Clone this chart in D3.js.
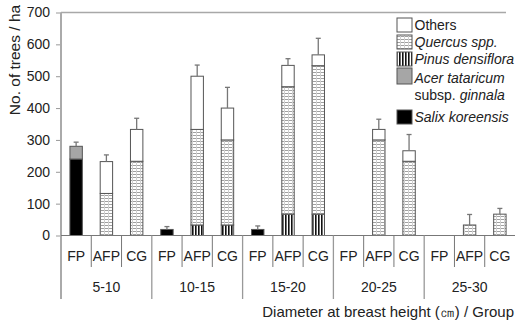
<!DOCTYPE html>
<html><head><meta charset="utf-8">
<script src="https://cdn.jsdelivr.net/npm/d3@7"></script>
<style>body{margin:0;background:#fff}svg{display:block}text{font-family:"Liberation Sans",Arial,sans-serif}</style>
</head><body><svg id="c" width="515" height="321"></svg>
<script>
const dbhClasses = ["5-10","10-15","15-20","20-25","25-30"];
const groups = ["FP","AFP","CG"];
const species = ["Salix koreensis","Acer tataricum subsp. ginnala","Pinus densiflora","Quercus spp.","Others"];
// values (trees/ha) per group, index by dbh class
const salix   = {FP:[240,19,19,0,0], AFP:[0,0,0,0,0], CG:[0,0,0,0,0]};
const acer    = {FP:[40,0,0,0,0],    AFP:[0,0,0,0,0], CG:[0,0,0,0,0]};
const pinus   = {FP:[0,0,0,0,0],     AFP:[0,33,67,0,0], CG:[0,33,67,0,0]};
const quercus = {FP:[0,0,0,0,0],     AFP:[132,300,400,300,33], CG:[233,267,466,233,67]};
const others  = {FP:[0,0,0,0,0],     AFP:[100,167,67,33,0], CG:[100,100,34,33,0]};
const sd      = {FP:[13,9,11,0,0],   AFP:[21,35,21,32,33], CG:[35,65,52,51,18]};
const yTicks = [0,100,200,300,400,500,600,700];

(function(){
const svg = d3.select("#c");
const defs = svg.append("defs");
const pq = defs.append("pattern").attr("id","quercus").attr("patternUnits","userSpaceOnUse").attr("width",4).attr("height",3);
pq.append("rect").attr("width",4).attr("height",3).attr("fill","#fff");
pq.append("rect").attr("width",4).attr("height",1).attr("fill","#a0a0a0");
pq.append("rect").attr("x",0).attr("width",1).attr("height",3).attr("fill","#d0d0d0");
const pp = defs.append("pattern").attr("id","pinus").attr("patternUnits","userSpaceOnUse").attr("width",3).attr("height",3);
pp.append("rect").attr("width",3).attr("height",3).attr("fill","#fff");
pp.append("rect").attr("width",1.6).attr("height",3).attr("fill","#111");

const fills = {"Salix koreensis":"#000","Acer tataricum subsp. ginnala":"#a6a6a6","Pinus densiflora":"url(#pinus)","Quercus spp.":"url(#quercus)","Others":"#fff"};
const seriesData = {"Salix koreensis":salix,"Acer tataricum subsp. ginnala":acer,"Pinus densiflora":pinus,"Quercus spp.":quercus,"Others":others};

const pl=61, pr=515, pt=12.5, base=235.5;
const y = d3.scaleLinear().domain([0,700]).range([base,pt]);
const x0 = d3.scaleBand().domain(dbhClasses).range([pl,pr]).padding(0);
const x1 = d3.scaleBand().domain(groups).range([0,x0.bandwidth()]).padding(0);
const bw = x1.bandwidth()*0.41;

// top border
svg.append("line").attr("x1",pl).attr("x2",506).attr("y1",pt).attr("y2",pt).attr("stroke","#a8a8a8").attr("stroke-width",1.5);

// y axis
const ya = svg.append("g").attr("transform",`translate(${pl},0)`)
  .call(d3.axisLeft(y).tickValues(yTicks).tickSize(5).tickPadding(6));
ya.select(".domain").remove();
ya.selectAll(".tick line").attr("stroke","#999");
ya.selectAll(".tick text").attr("font-size",14).attr("fill","#222");
svg.append("line").attr("x1",pl).attr("x2",pl).attr("y1",pt).attr("y2",299).attr("stroke","#aaa").attr("stroke-width",2);

// bars
const bars = svg.append("g");
dbhClasses.forEach((c,ci)=>{
  groups.forEach(g=>{
    const cx = x0(c)+x1(g)+x1.bandwidth()/2;
    let cum=0;
    species.forEach(s=>{
      const v = seriesData[s][g][ci];
      if(v<=0) return;
      bars.append("rect").attr("x",cx-bw/2).attr("width",bw)
        .attr("y",y(cum+v)).attr("height",y(cum)-y(cum+v))
        .attr("fill",fills[s]).attr("stroke","#555").attr("stroke-width",1);
      cum+=v;
    });
    const e = sd[g][ci];
    if(cum>0 && e>0){
      bars.append("line").attr("x1",cx).attr("x2",cx).attr("y1",y(cum)).attr("y2",y(cum+e)).attr("stroke","#777").attr("stroke-width",1.3);
      bars.append("line").attr("x1",cx-2.5).attr("x2",cx+2.5).attr("y1",y(cum+e)).attr("y2",y(cum+e)).attr("stroke","#777").attr("stroke-width",1.3);
    }
  });
});

// x axis line
svg.append("line").attr("x1",pl).attr("x2",pr).attr("y1",base).attr("y2",base).attr("stroke","#777").attr("stroke-width",1.2);
// separators
dbhClasses.forEach((c,ci)=>{
  if(ci>0) svg.append("line").attr("x1",x0(c)).attr("x2",x0(c)).attr("y1",base).attr("y2",299).attr("stroke","#999").attr("stroke-width",1.3);
  groups.forEach((g,gi)=>{
    if(gi>0) svg.append("line").attr("x1",x0(c)+x1(g)).attr("x2",x0(c)+x1(g)).attr("y1",base).attr("y2",267).attr("stroke","#777").attr("stroke-width",1);
    svg.append("text").attr("x",x0(c)+x1(g)+x1.bandwidth()/2).attr("y",261).attr("text-anchor","middle")
      .attr("font-size",14).attr("fill","#222").text(g);
  });
  svg.append("text").attr("x",x0(c)+x0.bandwidth()/2).attr("y",291.5).attr("text-anchor","middle")
    .attr("font-size",14).attr("fill","#222").text(c);
});

// axis titles
svg.append("text").attr("transform","translate(15,60) rotate(-90)").attr("text-anchor","middle").attr("dy","0.35em")
  .attr("font-size",15.5).attr("fill","#222").text("No. of trees / ha");
svg.append("text").attr("x",514).attr("y",317).attr("text-anchor","end").attr("font-size",15).attr("fill","#222")
  .text("Diameter at breast height (㎝) / Group");

// legend
const lg = svg.append("g");
const legendItems = [
  {s:"Others", y:25, lines:[[{t:"Others",i:false}]]},
  {s:"Quercus spp.", y:42, lines:[[{t:"Quercus spp.",i:true}]]},
  {s:"Pinus densiflora", y:59, lines:[[{t:"Pinus densiflora",i:true}]]},
  {s:"Acer tataricum subsp. ginnala", y:78, lines:[[{t:"Acer tataricum",i:true}],[{t:"subsp. ",i:false},{t:"ginnala",i:true}]]},
  {s:"Salix koreensis", y:117, lines:[[{t:"Salix koreensis",i:true}]]}
];
legendItems.forEach(it=>{
  const bh = it.lines.length>1 ? 16 : 14;
  const cy = it.lines.length>1 ? it.y-2 : it.y;
  lg.append("rect").attr("x",397).attr("y",cy-bh/2).attr("width",15).attr("height",bh)
    .attr("fill",fills[it.s]).attr("stroke","#555").attr("stroke-width",1);
  it.lines.forEach((ln,li)=>{
    const t = lg.append("text").attr("x",414.5).attr("y",it.y+5+li*17).attr("font-size",14).attr("fill","#222");
    ln.forEach(p=>t.append("tspan").attr("font-style",p.i?"italic":"normal").text(p.t));
  });
});
})();
</script></body></html>
